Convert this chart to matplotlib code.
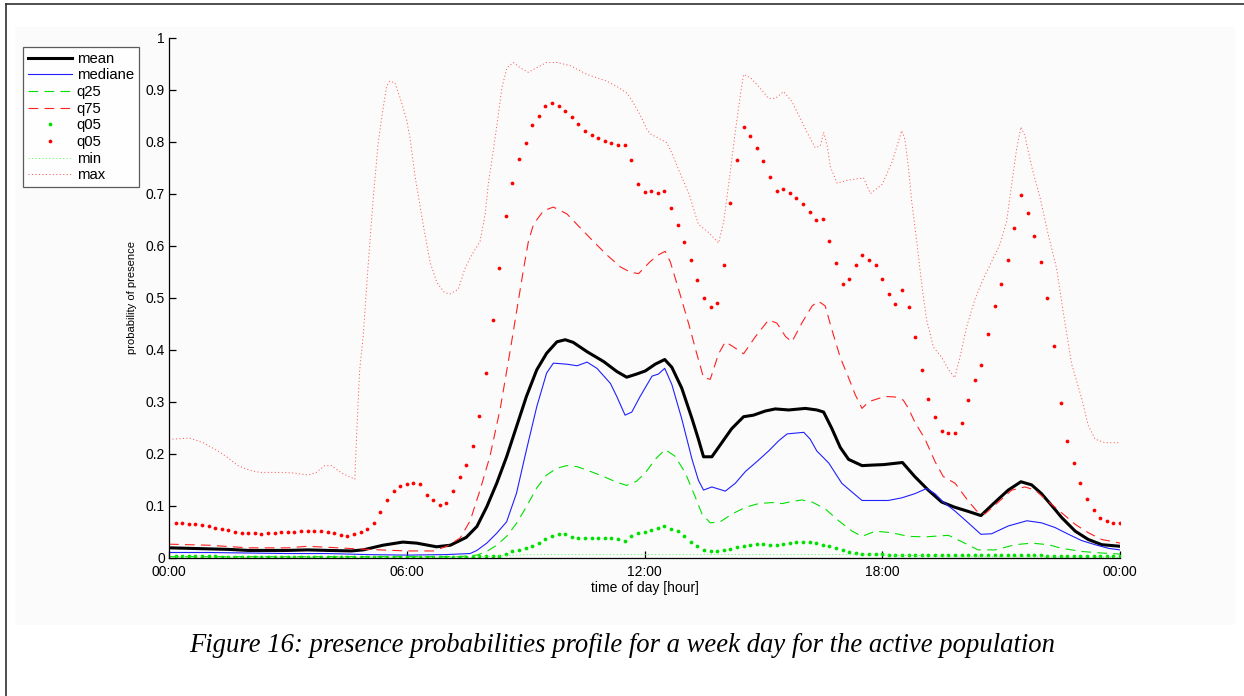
import matplotlib
matplotlib.use("Agg")
import matplotlib.pyplot as plt
from matplotlib.lines import Line2D
from matplotlib.patches import Rectangle
import numpy as np

plt.rcParams['font.family'] = ['Liberation Sans', 'DejaVu Sans']
plt.rcParams['lines.scale_dashes'] = False

# === Données : profils de présence (heure, probabilité) ===
mean_curve = [
    (0.00, 0.019), (0.50, 0.018), (1.00, 0.017), (1.50, 0.016), (2.00, 0.014),
    (2.50, 0.014), (3.00, 0.014), (3.50, 0.015), (4.00, 0.014), (4.60, 0.013),
    (4.90, 0.015), (5.40, 0.024), (5.90, 0.030), (6.25, 0.028), (6.75, 0.021),
    (7.10, 0.024), (7.50, 0.039), (7.77, 0.060), (8.02, 0.098), (8.27, 0.143),
    (8.52, 0.194), (8.77, 0.252), (9.02, 0.310), (9.28, 0.361), (9.53, 0.393),
    (9.79, 0.415), (10.00, 0.419), (10.20, 0.414), (10.55, 0.396), (10.97, 0.377),
    (11.30, 0.358), (11.55, 0.347), (11.80, 0.353), (12.02, 0.359), (12.27, 0.372),
    (12.51, 0.381), (12.69, 0.366), (12.94, 0.326), (13.20, 0.267), (13.36, 0.228),
    (13.49, 0.194), (13.70, 0.194), (13.95, 0.221), (14.20, 0.248), (14.50, 0.271),
    (14.75, 0.274), (15.05, 0.282), (15.30, 0.286), (15.64, 0.284), (16.06, 0.287),
    (16.35, 0.284), (16.52, 0.280), (16.73, 0.248), (16.94, 0.212), (17.15, 0.189),
    (17.49, 0.177), (17.74, 0.178), (18.04, 0.179), (18.51, 0.183), (18.82, 0.156),
    (19.16, 0.130), (19.50, 0.107), (19.83, 0.097), (20.17, 0.089), (20.49, 0.081),
    (20.85, 0.107), (21.18, 0.130), (21.50, 0.146), (21.77, 0.140), (22.02, 0.123),
    (22.28, 0.100), (22.53, 0.077), (22.87, 0.051), (23.20, 0.035), (23.54, 0.025),
    (24.00, 0.022),
]

median_curve = [
    (0.00, 0.010), (1.00, 0.010), (2.00, 0.009), (3.00, 0.008), (4.00, 0.008),
    (5.00, 0.006), (6.00, 0.005), (7.00, 0.006), (7.60, 0.008), (7.77, 0.014),
    (8.02, 0.028), (8.27, 0.047), (8.52, 0.069), (8.77, 0.124), (9.02, 0.207),
    (9.28, 0.290), (9.53, 0.355), (9.70, 0.374), (10.04, 0.372), (10.30, 0.369),
    (10.55, 0.376), (10.80, 0.364), (11.14, 0.335), (11.30, 0.310), (11.51, 0.274),
    (11.68, 0.280), (11.89, 0.310), (12.19, 0.349), (12.35, 0.353), (12.51, 0.364),
    (12.69, 0.333), (12.94, 0.267), (13.20, 0.189), (13.36, 0.149), (13.49, 0.130),
    (13.70, 0.136), (14.04, 0.128), (14.29, 0.143), (14.55, 0.166), (14.84, 0.185),
    (15.13, 0.205), (15.39, 0.225), (15.60, 0.238), (16.02, 0.241), (16.18, 0.228),
    (16.35, 0.205), (16.65, 0.182), (16.98, 0.143), (17.24, 0.126), (17.49, 0.110),
    (18.15, 0.110), (18.49, 0.115), (18.82, 0.123), (19.12, 0.133), (19.33, 0.123),
    (19.54, 0.107), (19.83, 0.090), (20.17, 0.067), (20.49, 0.045), (20.76, 0.046),
    (21.18, 0.061), (21.65, 0.071), (22.02, 0.067), (22.36, 0.058), (22.70, 0.045),
    (23.03, 0.033), (23.37, 0.025), (23.71, 0.018), (24.00, 0.015),
]

q25_curve = [
    (0.00, 0.002), (2.00, 0.002), (4.00, 0.002), (6.00, 0.002), (7.30, 0.002),
    (7.77, 0.005), (8.02, 0.012), (8.27, 0.024), (8.52, 0.041), (8.77, 0.066),
    (9.02, 0.098), (9.28, 0.134), (9.53, 0.159), (9.79, 0.172), (10.04, 0.177),
    (10.30, 0.175), (10.63, 0.166), (10.97, 0.156), (11.30, 0.145), (11.55, 0.139),
    (11.80, 0.147), (12.02, 0.163), (12.27, 0.189), (12.52, 0.208), (12.77, 0.195),
    (13.03, 0.163), (13.28, 0.117), (13.45, 0.084), (13.66, 0.067), (13.91, 0.069),
    (14.21, 0.084), (14.55, 0.097), (14.88, 0.104), (15.22, 0.106), (15.47, 0.104),
    (15.72, 0.108), (15.97, 0.111), (16.23, 0.107), (16.56, 0.094), (16.90, 0.071),
    (17.24, 0.051), (17.49, 0.041), (17.83, 0.051), (18.24, 0.048), (18.66, 0.041),
    (19.08, 0.040), (19.67, 0.043), (20.00, 0.031), (20.42, 0.015), (20.85, 0.015),
    (21.35, 0.025), (21.77, 0.028), (22.19, 0.025), (22.53, 0.018), (23.03, 0.012),
    (23.54, 0.009), (24.00, 0.007),
]

q75_curve = [
    (0.00, 0.026), (1.00, 0.024), (2.00, 0.019), (3.00, 0.019), (3.50, 0.022),
    (4.00, 0.020), (5.00, 0.016), (6.00, 0.013), (6.67, 0.013), (7.01, 0.022),
    (7.35, 0.038), (7.60, 0.071), (7.85, 0.130), (8.10, 0.195), (8.36, 0.287),
    (8.61, 0.398), (8.78, 0.477), (8.95, 0.556), (9.07, 0.608), (9.20, 0.641),
    (9.45, 0.667), (9.70, 0.674), (10.04, 0.661), (10.38, 0.634), (10.71, 0.608),
    (11.05, 0.582), (11.39, 0.559), (11.64, 0.549), (11.85, 0.546), (12.14, 0.569),
    (12.35, 0.582), (12.52, 0.589), (12.65, 0.569), (12.86, 0.516), (13.11, 0.451),
    (13.32, 0.392), (13.49, 0.346), (13.66, 0.343), (13.87, 0.392), (14.04, 0.415),
    (14.25, 0.405), (14.50, 0.392), (14.80, 0.425), (15.13, 0.457), (15.34, 0.451),
    (15.56, 0.425), (15.72, 0.415), (15.97, 0.451), (16.23, 0.484), (16.39, 0.493),
    (16.56, 0.484), (16.73, 0.438), (16.94, 0.385), (17.15, 0.346), (17.32, 0.313),
    (17.49, 0.287), (17.66, 0.300), (18.07, 0.310), (18.32, 0.309), (18.53, 0.303),
    (18.66, 0.287), (18.82, 0.261), (19.08, 0.228), (19.33, 0.185), (19.54, 0.156),
    (19.84, 0.143), (20.13, 0.113), (20.38, 0.090), (20.59, 0.084), (20.93, 0.107),
    (21.27, 0.130), (21.60, 0.136), (21.86, 0.130), (22.11, 0.113), (22.36, 0.097),
    (22.61, 0.081), (22.87, 0.064), (23.20, 0.048), (23.54, 0.035), (23.88, 0.030),
    (24.00, 0.028),
]

min_curve = [
    (0.00, 0.001), (7.50, 0.001), (8.50, 0.004), (9.00, 0.006), (17.00, 0.006),
    (18.00, 0.005), (19.00, 0.004), (20.00, 0.002), (24.00, 0.001),
]

max_curve = [
    (0.00, 0.228), (0.14, 0.228), (0.52, 0.230), (0.86, 0.221), (1.24, 0.205),
    (1.49, 0.192), (1.74, 0.177), (2.04, 0.168), (2.29, 0.164), (2.71, 0.164),
    (3.13, 0.163), (3.51, 0.159), (3.72, 0.164), (3.93, 0.177), (4.10, 0.177),
    (4.35, 0.163), (4.69, 0.151), (4.73, 0.228), (4.81, 0.359), (4.90, 0.425),
    (5.02, 0.556), (5.15, 0.687), (5.28, 0.798), (5.39, 0.857), (5.49, 0.906),
    (5.57, 0.916), (5.70, 0.913), (5.82, 0.887), (5.99, 0.844), (6.08, 0.808),
    (6.21, 0.733), (6.34, 0.674), (6.46, 0.621), (6.59, 0.568), (6.76, 0.529),
    (6.95, 0.510), (7.09, 0.507), (7.30, 0.516), (7.47, 0.556), (7.64, 0.582),
    (7.85, 0.608), (7.98, 0.661), (8.06, 0.720), (8.19, 0.785), (8.31, 0.851),
    (8.40, 0.903), (8.53, 0.942), (8.69, 0.952), (8.86, 0.942), (9.07, 0.933),
    (9.28, 0.942), (9.53, 0.952), (9.79, 0.952), (10.12, 0.946), (10.55, 0.929),
    (11.05, 0.916), (11.30, 0.906), (11.56, 0.893), (11.72, 0.874), (11.89, 0.851),
    (12.06, 0.824), (12.14, 0.815), (12.56, 0.798), (12.69, 0.778), (12.86, 0.746),
    (13.12, 0.700), (13.36, 0.641), (13.62, 0.625), (13.87, 0.605), (14.00, 0.647),
    (14.16, 0.739), (14.29, 0.818), (14.42, 0.890), (14.50, 0.929), (14.67, 0.923),
    (14.88, 0.906), (15.13, 0.883), (15.30, 0.883), (15.51, 0.896), (15.72, 0.877),
    (15.89, 0.851), (16.10, 0.818), (16.31, 0.788), (16.44, 0.792), (16.52, 0.818),
    (16.61, 0.792), (16.69, 0.752), (16.86, 0.720), (17.15, 0.726), (17.53, 0.730),
    (17.70, 0.700), (18.00, 0.718), (18.24, 0.759), (18.40, 0.798), (18.49, 0.821),
    (18.57, 0.805), (18.66, 0.752), (18.74, 0.687), (18.87, 0.608), (19.00, 0.523),
    (19.12, 0.457), (19.29, 0.405), (19.50, 0.385), (19.67, 0.362), (19.83, 0.346),
    (19.96, 0.385), (20.13, 0.444), (20.34, 0.497), (20.55, 0.536), (20.76, 0.569),
    (20.97, 0.602), (21.14, 0.647), (21.27, 0.720), (21.39, 0.785), (21.50, 0.828),
    (21.60, 0.811), (21.77, 0.752), (21.98, 0.693), (22.19, 0.621), (22.40, 0.556),
    (22.57, 0.471), (22.78, 0.372), (23.03, 0.307), (23.20, 0.254), (23.37, 0.228),
    (23.62, 0.221), (24.00, 0.221),
]

# quantiles 5 % / 95 % : un échantillon toutes les 10 minutes (00:10 -> 24:00)
q05_low = [
    0.003, 0.003, 0.003, 0.003, 0.003, 0.003, 0.003, 0.002, 0.002, 0.002, 0.002, 0.002,
    0.002, 0.002, 0.002, 0.002, 0.002, 0.002, 0.002, 0.002, 0.002, 0.002, 0.002, 0.002,
    0.002, 0.002, 0.002, 0.002, 0.002, 0.002, 0.002, 0.002, 0.002, 0.002, 0.002, 0.002,
    0.002, 0.002, 0.002, 0.002, 0.002, 0.002, 0.002, 0.002, 0.002, 0.002, 0.003, 0.003,
    0.003, 0.004, 0.007, 0.012, 0.014, 0.018, 0.023, 0.028, 0.035, 0.041, 0.045, 0.045,
    0.040, 0.038, 0.037, 0.037, 0.038, 0.038, 0.037, 0.035, 0.033, 0.041, 0.047, 0.050,
    0.054, 0.058, 0.061, 0.056, 0.051, 0.041, 0.031, 0.022, 0.014, 0.013, 0.013, 0.014,
    0.017, 0.020, 0.022, 0.025, 0.026, 0.026, 0.025, 0.024, 0.026, 0.029, 0.031, 0.031,
    0.030, 0.028, 0.025, 0.022, 0.018, 0.014, 0.010, 0.009, 0.007, 0.007, 0.007, 0.007,
    0.006, 0.006, 0.006, 0.006, 0.006, 0.006, 0.006, 0.006, 0.006, 0.006, 0.006, 0.006,
    0.005, 0.005, 0.005, 0.005, 0.005, 0.005, 0.005, 0.005, 0.005, 0.005, 0.005, 0.005,
    0.004, 0.004, 0.004, 0.004, 0.004, 0.004, 0.003, 0.003, 0.003, 0.003, 0.003, 0.003,
]
q05_high = [
    0.066, 0.066, 0.065, 0.064, 0.063, 0.060, 0.058, 0.056, 0.053, 0.050, 0.048, 0.047,
    0.047, 0.046, 0.047, 0.048, 0.049, 0.049, 0.050, 0.051, 0.052, 0.052, 0.052, 0.049,
    0.047, 0.043, 0.041, 0.046, 0.050, 0.056, 0.067, 0.088, 0.110, 0.128, 0.138, 0.141,
    0.144, 0.141, 0.120, 0.110, 0.102, 0.105, 0.128, 0.156, 0.178, 0.215, 0.273, 0.356,
    0.456, 0.557, 0.656, 0.721, 0.767, 0.797, 0.831, 0.849, 0.868, 0.875, 0.868, 0.859,
    0.847, 0.833, 0.821, 0.812, 0.806, 0.801, 0.798, 0.794, 0.794, 0.765, 0.718, 0.703,
    0.705, 0.701, 0.704, 0.672, 0.640, 0.607, 0.572, 0.533, 0.499, 0.482, 0.490, 0.562,
    0.682, 0.765, 0.827, 0.811, 0.788, 0.763, 0.731, 0.704, 0.708, 0.701, 0.692, 0.680,
    0.664, 0.649, 0.651, 0.608, 0.566, 0.526, 0.535, 0.562, 0.582, 0.572, 0.562, 0.535,
    0.507, 0.488, 0.515, 0.481, 0.425, 0.361, 0.305, 0.270, 0.243, 0.240, 0.240, 0.259,
    0.303, 0.341, 0.371, 0.430, 0.484, 0.526, 0.572, 0.634, 0.697, 0.662, 0.619, 0.569,
    0.500, 0.406, 0.297, 0.225, 0.182, 0.144, 0.112, 0.092, 0.076, 0.071, 0.067, 0.066,
]

heures_ticks = [0, 6, 12, 18, 24]
labels_ticks = ["00:00", "06:00", "12:00", "18:00", "00:00"]
proba_ticks = [0, 0.1, 0.2, 0.3, 0.4, 0.5, 0.6, 0.7, 0.8, 0.9, 1]
proba_labels = ["0", "0.1", "0.2", "0.3", "0.4", "0.5", "0.6", "0.7", "0.8", "0.9", "1"]

legende = ["mean", "mediane", "q25", "q75", "q05", "q05", "min", "max"]
legende_caption = "Figure 16: presence probabilities profile for a week day for the active population"


def xy(courbe):
    arr = np.array(courbe)
    return arr[:, 0], arr[:, 1]


W, H = 1244, 696
fig = plt.figure(figsize=(W / 100, H / 100), dpi=100)
fig.patch.set_facecolor('white')

# cadre de la page + fond gris très clair de l'image
fig.add_artist(Rectangle((15 / W, 1 - 625 / H), 1220 / W, 598 / H,
                         transform=fig.transFigure, facecolor='#fbfbfb',
                         edgecolor='none', zorder=0))
fig.add_artist(Line2D([6 / W, 6 / W], [0, 1 - 4 / H], color='#303030', lw=1.2))
fig.add_artist(Line2D([6 / W, 1], [1 - 4 / H, 1 - 4 / H], color='#303030', lw=1.2))

ax = fig.add_axes([169 / W, 1 - 557.7 / H, (1120 - 169) / W, (557.7 - 37.5) / H])
ax.set_facecolor('#fbfbfb')

t_q = np.arange(1, len(q05_high) + 1) / 6.0

h_mean, = ax.plot(*xy(mean_curve), color='black', lw=2.2, solid_joinstyle='round')
h_med, = ax.plot(*xy(median_curve), color='#2020ff', lw=0.8)
h_q25, = ax.plot(*xy(q25_curve), color='#00e000', lw=0.8, dashes=(7, 4.5))
h_q75, = ax.plot(*xy(q75_curve), color='#ff2020', lw=0.8, dashes=(7, 4.5))
h_q05g, = ax.plot(t_q, q05_low, ls='none', marker='o', ms=2.7, mew=0, color='#00e000')
h_q05r, = ax.plot(t_q, q05_high, ls='none', marker='o', ms=2.7, mew=0, color='#ff0000')
h_min, = ax.plot(*xy(min_curve), color='#60ff60', lw=0.7, dashes=(0.8, 1.7))
h_max, = ax.plot(*xy(max_curve), color='#ff5a5a', lw=0.7, dashes=(0.8, 1.7))

ax.set_xlim(0, 24)
ax.set_ylim(0, 1)
ax.set_xticks(heures_ticks)
ax.set_xticklabels(labels_ticks)
ax.set_yticks(proba_ticks)
ax.set_yticklabels(proba_labels)
for cote in ['top', 'right']:
    ax.spines[cote].set_visible(False)
for cote in ['left', 'bottom']:
    ax.spines[cote].set_linewidth(0.9)
ax.tick_params(direction='in', length=5, width=0.9, labelsize=10, colors='black')
ax.tick_params(axis='y', pad=3)
ax.tick_params(axis='x', pad=5)
ax.set_xlabel("time of day [hour]", fontsize=10, labelpad=2)
ax.set_ylabel("probability of presence", fontsize=8, labelpad=6)

leg = ax.legend([h_mean, h_med, h_q25, h_q75, h_q05g, h_q05r, h_min, h_max], legende,
                loc='upper left', bbox_to_anchor=(23 / W, 1 - 47 / H),
                bbox_transform=fig.transFigure, fontsize=10.7, frameon=True,
                fancybox=False, borderaxespad=0, borderpad=0.32,
                handlelength=3.0, handletextpad=0.3, labelspacing=0.18,
                numpoints=1)
leg.get_frame().set_edgecolor('#333333')
leg.get_frame().set_linewidth(0.9)
leg.get_frame().set_facecolor('white')

fig.text(622 / W, 1 - 645 / H, legende_caption, ha='center', va='center',
         fontsize=19.2, style='italic', family='Liberation Serif')

fig.savefig("out.png", dpi=100)
